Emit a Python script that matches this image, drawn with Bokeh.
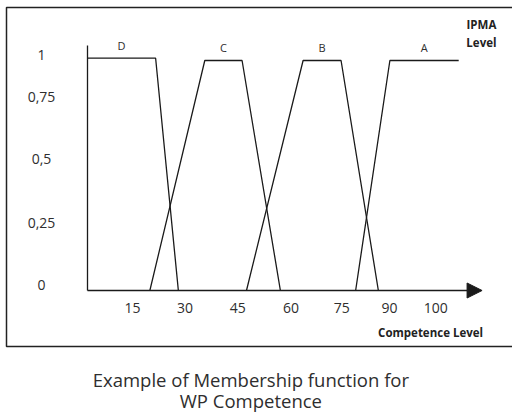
from bokeh.plotting import figure
from bokeh.models import (LinearAxis, FixedTicker, Range1d, Arrow, NormalHead,
                          Label, BoxAnnotation)
from bokeh.embed import file_html
from bokeh.resources import INLINE
from bokeh.core.properties import value

# ---- data ----
levels = ["D", "C", "B", "A"]
level_x = [
    [0, 20.1, 26.8],
    [18.4, 34.6, 45.6, 56.9],
    [46.9, 63.6, 74.8, 85.8],
    [79.1, 89.2, 109.5],
]
level_y = [
    [1.01, 1.01, 0],
    [0, 1, 1, 0],
    [0, 1, 1, 0],
    [0, 1, 1],
]
x_tick_labels = ["15", "30", "45", "60", "75", "90", "100"]
x_tick_at = [13.3, 28.8, 44.3, 60.0, 75.0, 89.1, 102.7]
y_tick_labels = ["0", "0,25", "0,5", "0,75", "1"]
y_tick_at = [0.022, 0.293, 0.570, 0.842, 1.023]
caption_lines = ["Example of Membership function for", "WP Competence"]
x_axis_end = 116.4
y_axis_top = 1.065

FONT = "Open Sans"
INK = "#1a1a1a"
TXT = "#2e2e2e"

p = figure(width=512, height=414, output_backend="svg", toolbar_location=None,
           x_axis_type=None, y_axis_type=None,
           x_range=Range1d(-25.66, 125.37), y_range=Range1d(-0.5391, 1.2609),
           min_border=0)
p.outline_line_color = None
p.background_fill_color = "white"
p.border_fill_color = "white"

# framing box of the figure (open on the right, as in the source image)
p.add_layout(BoxAnnotation(left=-23.89, right=140, bottom=-0.2435, top=1.2304,
                           fill_color=None, fill_alpha=0,
                           line_color="#222222", line_alpha=1.0,
                           line_width=1.5))

# membership trapezoids
p.multi_line(xs=level_x, ys=level_y, line_color=INK, line_width=1.3)

# level letters centred over each plateau
lab_x, lab_y = [], []
for xs, ys in zip(level_x, level_y):
    top = max(ys)
    plateau = [x for x, y in zip(xs, ys) if y == top]
    lab_x.append(sum(plateau) / len(plateau))
    lab_y.append(top)
p.text(x=lab_x, y=lab_y, text=levels, y_offset=-13, text_align="center",
       text_baseline="alphabetic", text_font=value(FONT),
       text_font_size=value("11px"), text_color=TXT)

# y axis (line) with centred labels to its left
yaxis = LinearAxis(fixed_location=0, bounds=(0, y_axis_top),
                   ticker=FixedTicker(ticks=y_tick_at),
                   axis_line_color=INK, axis_line_width=1.3,
                   major_tick_line_color=None, minor_tick_line_color=None,
                   major_tick_in=0, major_tick_out=0,
                   major_label_text_color=None)
p.add_layout(yaxis, "left")
p.text(x=[0] * len(y_tick_at), y=y_tick_at, text=y_tick_labels, x_offset=-46,
       text_align="center", text_baseline="middle", text_font=value(FONT),
       text_font_size=value("14px"), text_color=TXT)

xaxis = LinearAxis(fixed_location=0,
                   ticker=FixedTicker(ticks=x_tick_at),
                   major_label_overrides=dict(zip(x_tick_at, x_tick_labels)),
                   axis_line_color=None,
                   major_tick_line_color=None, minor_tick_line_color=None,
                   major_tick_in=0, major_tick_out=0,
                   major_label_standoff=12,
                   major_label_text_font=FONT, major_label_text_font_size="14px",
                   major_label_text_color=TXT)
p.add_layout(xaxis, "below")

p.add_layout(Arrow(end=NormalHead(size=15, fill_color=INK, line_color=INK),
                   x_start=0, y_start=0, x_end=x_axis_end, y_end=0,
                   line_color=INK, line_width=1.3))

# axis captions
for txt, xx, yy in [("IPMA", 116.2, 1.157), ("Level", 116.2, 1.080),
                    ("Competence Level", 101.2, -0.181)]:
    p.add_layout(Label(x=xx, y=yy, text=txt, text_align="center",
                       text_baseline="middle", text_font=FONT,
                       text_font_size="11.5px", text_font_style="bold",
                       text_color="#222222"))

# caption below the box
for line, yy in zip(caption_lines, [-0.387, -0.478]):
    p.add_layout(Label(x=48.2, y=yy, text=line, text_align="center",
                       text_baseline="middle", text_font=FONT,
                       text_font_size="18.5px", text_color=TXT))

open("out.html", "w").write(file_html(p, INLINE))
